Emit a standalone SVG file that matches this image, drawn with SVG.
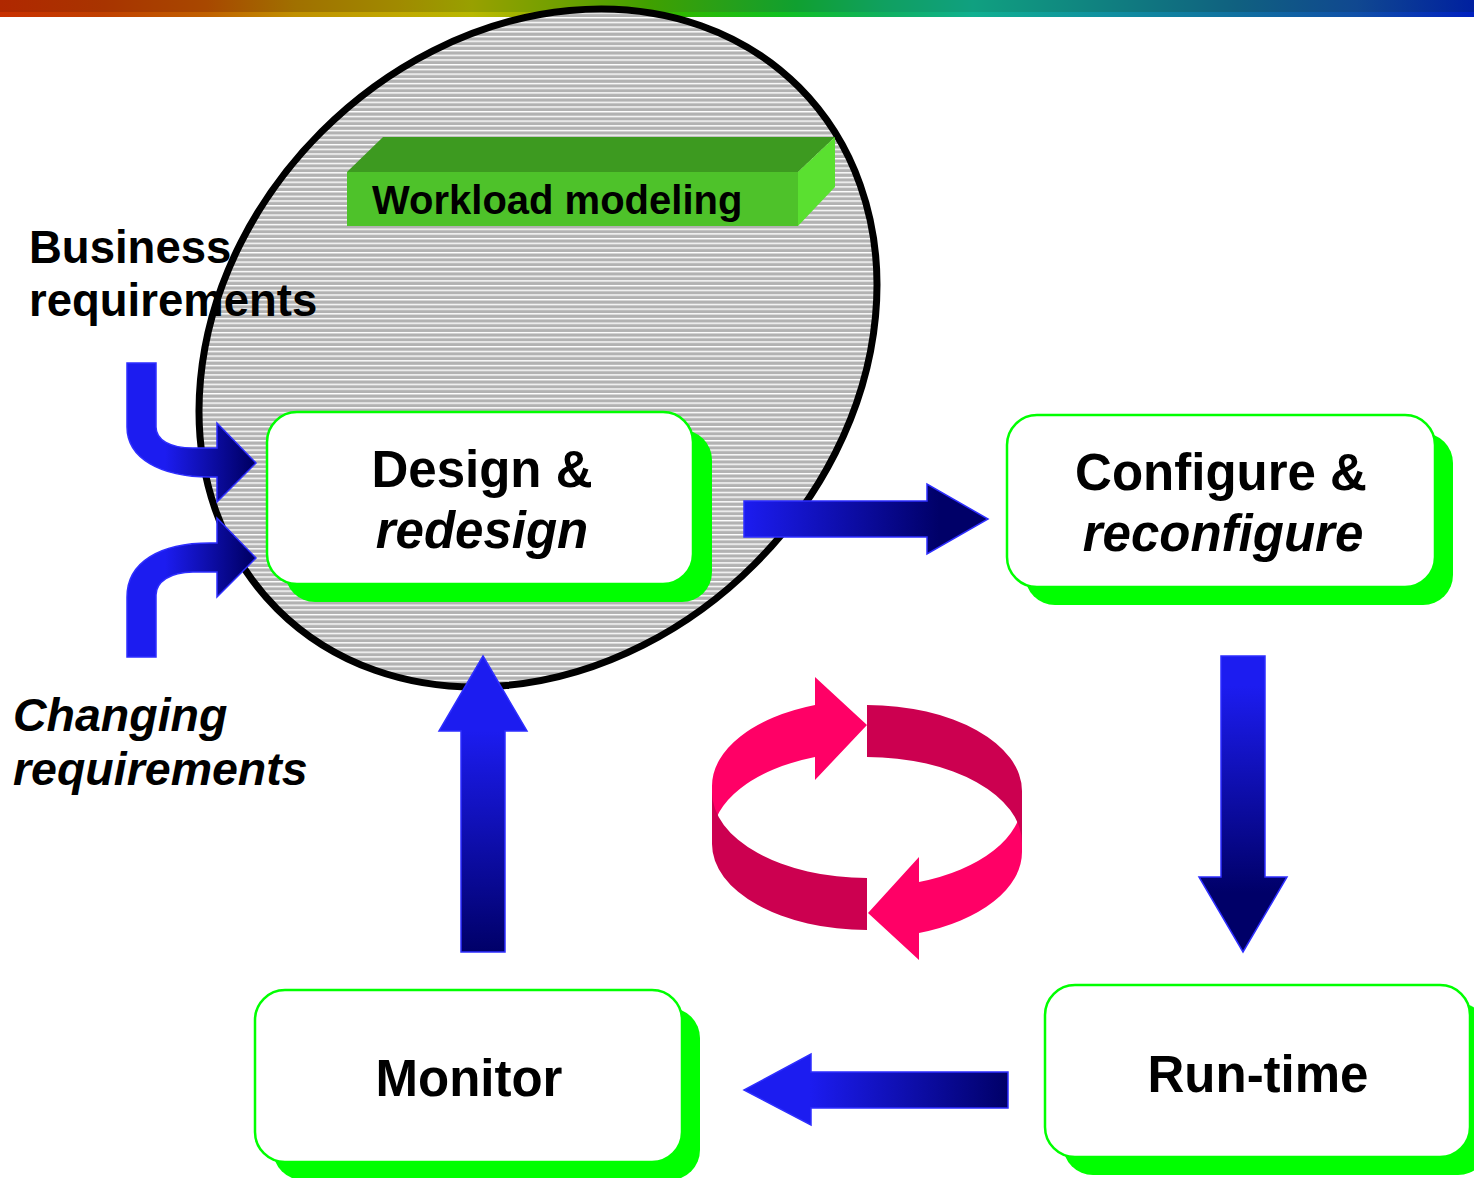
<svg xmlns="http://www.w3.org/2000/svg" width="1474" height="1178" viewBox="0 0 1474 1178">
  <style>
    .box { fill: #ffffff; stroke: #00ff00; stroke-width: 2.5; }
    .shadow { fill: #00ff00; }
    .t { font-family: "Liberation Sans", Arial, sans-serif; font-weight: bold; fill: #000000; }
    .big { font-size: 51px; }
    .lbl { font-size: 45.5px; }
    .it { font-style: italic; }
    .arrow { stroke: #2e2eff; stroke-width: 1.5; stroke-linejoin: miter; }
    .pink { fill: #ff0066; }
    .crimson { fill: #cc0050; }
  </style>
  <defs>
    <!-- horizontal hatch for the workload scope; turned back to level inside the rotated ellipse -->
    <pattern id="hatch" patternUnits="userSpaceOnUse" width="10" height="4.7" patternTransform="rotate(45)">
      <rect width="10" height="4.7" fill="#b2b2b2"/>
      <rect y="0" width="10" height="1.4" fill="#ffffff"/>
    </pattern>
    <linearGradient id="barTop" x1="0" y1="0" x2="1" y2="0">
      <stop offset="0" stop-color="#b02800"/>
      <stop offset="0.07" stop-color="#a83400"/>
      <stop offset="0.14" stop-color="#a84800"/>
      <stop offset="0.2" stop-color="#a07000"/>
      <stop offset="0.27" stop-color="#a08a00"/>
      <stop offset="0.32" stop-color="#98a000"/>
      <stop offset="0.38" stop-color="#70a000"/>
      <stop offset="0.44" stop-color="#40a000"/>
      <stop offset="0.54" stop-color="#10a030"/>
      <stop offset="0.6" stop-color="#10a060"/>
      <stop offset="0.66" stop-color="#10a080"/>
      <stop offset="0.75" stop-color="#108080"/>
      <stop offset="0.84" stop-color="#106080"/>
      <stop offset="0.92" stop-color="#104890"/>
      <stop offset="1" stop-color="#0020a0"/>
    </linearGradient>
    <linearGradient id="barBottom" x1="0" y1="0" x2="1" y2="0">
      <stop offset="0" stop-color="#c83000"/>
      <stop offset="0.07" stop-color="#c04000"/>
      <stop offset="0.14" stop-color="#c06000"/>
      <stop offset="0.2" stop-color="#c09000"/>
      <stop offset="0.27" stop-color="#c0a800"/>
      <stop offset="0.32" stop-color="#b8b800"/>
      <stop offset="0.38" stop-color="#90b000"/>
      <stop offset="0.46" stop-color="#30b800"/>
      <stop offset="0.53" stop-color="#10c020"/>
      <stop offset="0.6" stop-color="#10b060"/>
      <stop offset="0.66" stop-color="#10b090"/>
      <stop offset="0.75" stop-color="#1090a0"/>
      <stop offset="0.84" stop-color="#1070a0"/>
      <stop offset="0.92" stop-color="#1050a8"/>
      <stop offset="1" stop-color="#0020c0"/>
    </linearGradient>
    <linearGradient id="gRight" x1="0" y1="0" x2="0.8" y2="0">
      <stop offset="0" stop-color="#1c1cf0"/>
      <stop offset="1" stop-color="#000068"/>
    </linearGradient>
    <linearGradient id="gDown" x1="0" y1="0.1" x2="0" y2="0.8">
      <stop offset="0" stop-color="#1c1cf0"/>
      <stop offset="1" stop-color="#000068"/>
    </linearGradient>
    <linearGradient id="gUp" x1="0" y1="0.25" x2="0" y2="1">
      <stop offset="0" stop-color="#1c1cf0"/>
      <stop offset="1" stop-color="#000068"/>
    </linearGradient>
    <linearGradient id="gLeft" x1="0.25" y1="0" x2="1" y2="0">
      <stop offset="0" stop-color="#1c1cf0"/>
      <stop offset="1" stop-color="#000068"/>
    </linearGradient>
    <linearGradient id="gBend" gradientUnits="userSpaceOnUse" x1="165" y1="0" x2="250" y2="0">
      <stop offset="0" stop-color="#1c1cf0"/>
      <stop offset="1" stop-color="#000068"/>
    </linearGradient>
  </defs>

  <!-- header colour strip -->
  <rect x="0" y="0" width="1474" height="12" fill="url(#barTop)"/>
  <rect x="0" y="12" width="1474" height="5" fill="url(#barBottom)"/>

  <!-- workload scope -->
  <g id="scope">
    <ellipse cx="538" cy="348" rx="369" ry="306" transform="rotate(-45 538 348)" fill="url(#hatch)" stroke="#000000" stroke-width="7"/>
  </g>

  <g id="node-workload">
    <polygon points="347,172 383,137 835,137 798,172" fill="#3d9a20"/>
    <polygon points="798,172 835,137 835,187 798,226" fill="#5ae030"/>
    <rect x="347" y="172" width="451" height="54" fill="#4ec22a"/>
    <text class="t" x="372" y="214" font-size="40">Workload modeling</text>
  </g>

  <!-- process nodes -->
  <g id="node-design">
    <rect class="shadow" x="285" y="430" width="427" height="172" rx="30"/>
    <rect class="box" x="267" y="412" width="426" height="172" rx="30"/>
    <text class="t big" x="482" y="487" text-anchor="middle">Design &amp;</text>
    <text class="t big it" x="482" y="548" text-anchor="middle">redesign</text>
  </g>

  <g id="node-configure">
    <rect class="shadow" x="1025" y="433" width="428" height="172" rx="30"/>
    <rect class="box" x="1007" y="415" width="428" height="172" rx="30"/>
    <text class="t big" x="1221" y="490" text-anchor="middle">Configure &amp;</text>
    <text class="t big it" x="1223" y="551" text-anchor="middle">reconfigure</text>
  </g>

  <g id="node-runtime">
    <rect class="shadow" x="1063" y="1003" width="425" height="172" rx="30"/>
    <rect class="box" x="1045" y="985" width="425" height="172" rx="30"/>
    <text class="t big" x="1258" y="1092" text-anchor="middle">Run-time</text>
  </g>

  <g id="node-monitor">
    <rect class="shadow" x="273" y="1008" width="427" height="172" rx="30"/>
    <rect class="box" x="255" y="990" width="427" height="172" rx="30"/>
    <text class="t big" x="469" y="1096" text-anchor="middle">Monitor</text>
  </g>

  <!-- input labels -->
  <g id="label-business">
    <text class="t lbl" x="29" y="263">Business</text>
    <text class="t lbl" x="29" y="316">requirements</text>
  </g>
  <g id="label-changing">
    <text class="t lbl it" x="13" y="731" style="font-size:46.5px">Changing</text>
    <text class="t lbl it" x="13" y="785" style="font-size:46.5px">requirements</text>
  </g>

  <!-- flow arrows -->
  <g id="connectors">
    <path class="arrow" fill="url(#gBend)" d="M127,363 L127,427 C127,458 160,477 210,477 L217,477 L217,502 L256,463 L217,423 L217,448 L193,448 C170,448 156,440 156,427 L156,363 Z"/>
    <path class="arrow" fill="url(#gBend)" d="M127,657 L127,597 C127,562 160,543 210,543 L217,543 L217,518 L256,558 L217,597 L217,572 L193,572 C170,572 156,582 156,595 L156,657 Z"/>
    <path class="arrow" fill="url(#gRight)" d="M744,501 L927,501 L927,484 L988,519 L927,554 L927,537 L744,537 Z"/>
    <path class="arrow" fill="url(#gDown)" d="M1221,656 L1265,656 L1265,877 L1287,877 L1243,952 L1199,877 L1221,877 Z"/>
    <path class="arrow" fill="url(#gLeft)" d="M1008,1072 L811,1072 L811,1054 L744,1090 L811,1125 L811,1108 L1008,1108 Z"/>
    <path class="arrow" fill="url(#gUp)" d="M483,656 L527,731 L505,731 L505,952 L461,952 L461,731 L439,731 Z"/>
  </g>

  <!-- continuous cycle emblem -->
  <g id="cycle">
    <path class="pink" d="M815,705 A155,86 0 0,0 712,786 L712,838 A155,86 0 0,1 815,757 L815,780 L867,725 L815,677 Z"/>
    <path class="pink" d="M919,882 A155,86 0 0,0 1022,801 L1022,852 A155,86 0 0,1 919,933 L919,960 L868,913 L919,857 Z"/>
    <path class="crimson" d="M867,705 A155,86 0 0,1 1022,791 L1022,843 A155,86 0 0,0 867,757 Z"/>
    <path class="crimson" d="M867,878 A155,86 0 0,1 712,792 L712,844 A155,86 0 0,0 867,930 Z"/>
  </g>
</svg>
